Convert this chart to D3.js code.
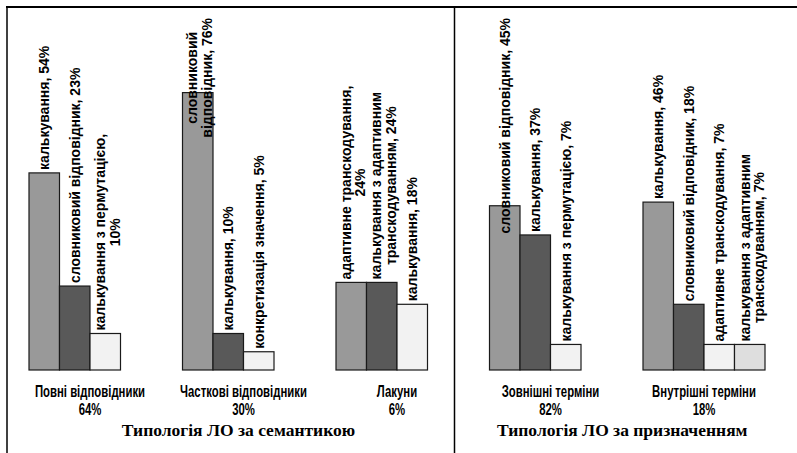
<!DOCTYPE html>
<html><head><meta charset="utf-8">
<script src="https://cdn.jsdelivr.net/npm/d3@7"></script>
<style>body{margin:0;background:#fff}svg{display:block}</style>
</head><body>
<svg id="c" width="797" height="453"></svg>
<script>
// ---- data ----
const categories = ["Повні відповідники", "Часткові відповідники", "Лакуни", "Зовнішні терміни", "Внутрішні терміни"];
const categoryShares = ["64%", "30%", "6%", "82%", "18%"];
const panelTitles = ["Типологія ЛО за семантикою", "Типологія ЛО за призначенням"];
const panelCategories = [[0, 1, 2], [3, 4]];
const values1 = [54, 76, 24, 45, 46];
const values2 = [23, 10, 24, 37, 18];
const values3 = [10, 5, 18, 7, 7];
const values4 = [null, null, null, null, 7];
const labels1 = ["калькування, 54%", "словниковий|відповідник, 76%", "адаптивне транскодування,|24%", "словниковий відповідник, 45%", "калькування, 46%"];
const labels2 = ["словниковий відповідник, 23%", "калькування, 10%", "калькування з адаптивним|транскодуванням, 24%", "калькування, 37%", "словниковий відповідник, 18%"];
const labels3 = ["калькування з пермутацією,|10%", "конкретизація значення, 5%", "калькування, 18%", "калькування з пермутацією, 7%", "адаптивне транскодування, 7%"];
const labels4 = [null, null, null, null, "калькування з адаптивним|транскодуванням, 7%"];
const slotColors = ["#999999", "#595959", "#f2f2f2", "#dedede"];

// ---- build ----
const seriesValues = [values1, values2, values3, values4];
const seriesLabels = [labels1, labels2, labels3, labels4];
const bars = [];
categories.forEach((c, ci) => {
  seriesValues.forEach((vals, si) => {
    if (vals[ci] != null) bars.push({cat: c, slot: si, value: vals[ci], label: seriesLabels[si][ci]});
  });
});

const svg = d3.select("#c");
const x = d3.scaleBand().domain(categories).range([13.25, 780.75]).paddingInner(0.2052).paddingOuter(0.1026);
const xs = d3.scaleBand().domain([0, 1, 2, 3]).range([0, x.bandwidth()]);
const y = d3.scaleLinear().domain([0, 100]).range([370, 5]);

// frame
const frame = svg.append("g").attr("stroke", "#000").attr("fill", "none");
frame.append("line").attr("x1", 6).attr("x2", 797).attr("y1", 7).attr("y2", 7).attr("stroke-width", 2);
frame.append("line").attr("x1", 7).attr("x2", 7).attr("y1", 6).attr("y2", 453).attr("stroke-width", 1.5);
frame.append("line").attr("x1", 454.5).attr("x2", 454.5).attr("y1", 7).attr("y2", 453).attr("stroke-width", 1.5);

// bars
svg.append("g").selectAll("rect").data(bars).join("rect")
  .attr("x", d => x(d.cat) + xs(d.slot))
  .attr("y", d => y(d.value))
  .attr("width", xs.bandwidth())
  .attr("height", d => y(0) - y(d.value))
  .attr("fill", d => slotColors[d.slot])
  .attr("stroke", "#1a1a1a")
  .attr("stroke-width", 1.2);

// data labels (rotated)
const lineH = 14.5;
const lg = svg.append("g").attr("font-family", "'Liberation Sans', Arial, sans-serif")
  .attr("font-weight", "bold").attr("font-size", "14px").attr("fill", "#000");
bars.forEach(d => {
  if (!d.label) return;
  const lines = d.label.split("|");
  const cx = x(d.cat) + xs(d.slot) + xs.bandwidth() / 2 + (lines.length > 1 ? 2 : 0);
  const g = lg.append("g");
  const t = g.append("text").attr("text-anchor", "middle").attr("dominant-baseline", "central");
  lines.forEach((ln, i) => {
    t.append("tspan").attr("y", (i - (lines.length - 1) / 2) * lineH).text(ln);
  });
  let len = 0;
  t.selectAll("tspan").each(function () { len = Math.max(len, this.getComputedTextLength()); });
  t.selectAll("tspan").attr("x", len / 2);
  const start = Math.max(y(d.value) - 3, 18 + len);
  g.attr("transform", `translate(${cx},${start}) rotate(-90)`);
});

// category labels (condensed)
const cg = svg.append("g").attr("font-family", "'Liberation Sans Narrow', 'Arial Narrow', 'Liberation Sans', sans-serif")
  .attr("font-weight", "bold").attr("font-size", "16px").attr("text-anchor", "middle").attr("fill", "#000");
categories.forEach((c, i) => {
  const cx = x(c) + x.bandwidth() / 2;
  cg.append("text").attr("transform", `translate(${cx},396.5) scale(0.71,1)`).text(c);
  cg.append("text").attr("transform", `translate(${cx},415) scale(0.71,1)`).text(categoryShares[i]);
});

// panel titles
const tg = svg.append("g").attr("font-family", "'Liberation Serif', 'Times New Roman', serif")
  .attr("font-weight", "bold").attr("font-size", "17.5px").attr("text-anchor", "middle").attr("fill", "#000");
panelTitles.forEach((t, pi) => {
  const idx = panelCategories[pi];
  const centers = idx.map(i => x(categories[i]) + x.bandwidth() / 2);
  const cx = d3.mean(centers) - 5;
  tg.append("text").attr("x", cx).attr("y", 435.5).text(t);
});
</script>
</body></html>
